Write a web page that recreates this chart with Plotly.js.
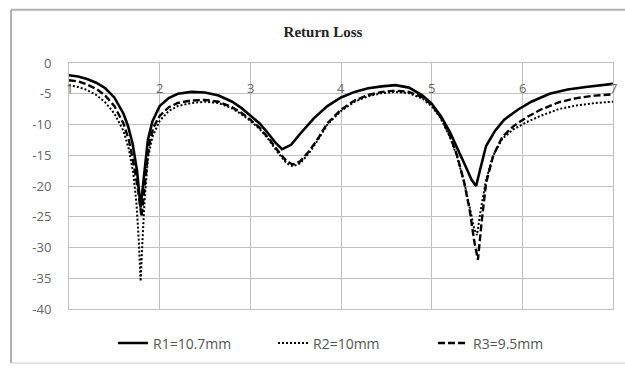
<!DOCTYPE html>
<html>
<head>
<meta charset="utf-8">
<script src="https://cdn.plot.ly/plotly-3.0.1.min.js"></script>
<style>html,body{margin:0;padding:0;background:#fff;}#chart{width:625px;height:372px;}</style>
</head>
<body>
<div id="chart"></div>
<script>
// ---- data ----
const seriesNames = ["R1=10.7mm", "R2=10mm", "R3=9.5mm"];

const r1X = [1.0,1.1,1.2,1.3,1.4,1.5,1.6,1.65,1.7,1.75,1.79,1.83,1.87,1.92,2.0,2.1,2.2,2.35,2.5,2.65,2.8,2.9,3.0,3.1,3.2,3.28,3.35,3.45,3.55,3.7,3.85,4.0,4.15,4.3,4.45,4.6,4.75,4.9,5.0,5.1,5.2,5.3,5.38,5.44,5.49,5.54,5.6,5.7,5.8,5.95,6.1,6.3,6.5,6.7,6.85,7.0];
const r1Y = [-2.0,-2.2,-2.6,-3.2,-4.1,-5.6,-8.2,-10.2,-13,-17.5,-23.5,-17.5,-12.5,-9.5,-7.0,-5.7,-5.0,-4.7,-4.8,-5.3,-6.3,-7.3,-8.6,-9.8,-11.5,-13,-14,-13.3,-11.5,-9.0,-7.0,-5.6,-4.7,-4.1,-3.8,-3.6,-4.0,-5.3,-6.6,-8.6,-11.2,-14.3,-17,-19,-20,-17,-13.5,-11,-9.2,-7.6,-6.3,-5.0,-4.3,-3.9,-3.6,-3.4];

const r2X = [1.0,1.1,1.2,1.3,1.4,1.5,1.6,1.66,1.71,1.745,1.77,1.79,1.81,1.835,1.87,1.92,2.0,2.1,2.2,2.35,2.5,2.65,2.8,2.9,3.0,3.1,3.2,3.3,3.4,3.47,3.55,3.65,3.75,3.85,4.0,4.15,4.3,4.45,4.6,4.75,4.9,5.0,5.1,5.2,5.28,5.36,5.42,5.47,5.5,5.54,5.6,5.68,5.78,5.9,6.05,6.2,6.4,6.6,6.8,7.0];
const r2Y = [-3.6,-3.9,-4.4,-5.2,-6.4,-8.2,-11.0,-14,-18,-23,-29,-35.5,-29,-22,-15.5,-12,-9.4,-7.8,-7.0,-6.5,-6.3,-6.5,-7.4,-8.3,-9.4,-10.7,-12.4,-14.5,-16.3,-16.8,-16.3,-14.6,-12.4,-10.0,-7.8,-6.3,-5.4,-4.9,-4.7,-4.9,-5.8,-7.0,-9.0,-12.0,-15.2,-19.5,-23.5,-27,-28,-24,-19,-15,-12.3,-10.8,-9.6,-8.6,-7.5,-6.9,-6.5,-6.3];

const r3X = [1.0,1.1,1.2,1.3,1.4,1.5,1.6,1.66,1.72,1.76,1.8,1.84,1.88,1.93,2.0,2.1,2.2,2.35,2.5,2.65,2.8,2.9,3.0,3.1,3.2,3.3,3.4,3.47,3.55,3.65,3.75,3.85,4.0,4.15,4.3,4.45,4.6,4.75,4.9,5.0,5.1,5.2,5.28,5.36,5.42,5.47,5.51,5.55,5.6,5.68,5.78,5.9,6.05,6.2,6.4,6.6,6.8,7.0];
const r3Y = [-2.8,-3.0,-3.5,-4.2,-5.3,-7.0,-9.8,-12.5,-17,-20.5,-25,-19,-13.5,-10.5,-8.6,-7.2,-6.5,-6.1,-6.0,-6.3,-7.2,-8.1,-9.2,-10.5,-12.2,-14.2,-16.0,-16.5,-16.0,-14.3,-12.2,-9.8,-7.6,-6.1,-5.2,-4.7,-4.5,-4.7,-5.6,-6.8,-8.8,-11.8,-15.0,-19.5,-24,-29,-32,-26,-19.5,-15,-12,-10.3,-8.8,-7.6,-6.4,-5.7,-5.3,-5.1];

const xTickVals = [1,2,3,4,5,6,7];
const xTickLabels = ["1","2","3","4","5","6","7"];
const yTickVals = [0,-5,-10,-15,-20,-25,-30,-35,-40];
const yTickLabels = ["0","-5","-10","-15","-20","-25","-30","-35","-40"];
const titleText = "Return Loss";

// ---- chart ----
const gridCol = "#c0c0c0";
const labelCol = "#666666";

const traces = [
  {x: r1X, y: r1Y, name: seriesNames[0], mode: "lines", line: {color: "#000", width: 2.6}},
  {x: r2X, y: r2Y, name: seriesNames[1], mode: "lines", line: {color: "#000", width: 2, dash: "2px,2px"}},
  {x: r3X, y: r3Y, name: seriesNames[2], mode: "lines", line: {color: "#000", width: 2.4, dash: "7px,3px"}}
];

const annotations = xTickVals.map((v, i) => ({
  x: v, y: -4, xref: "x", yref: "y", text: xTickLabels[i], showarrow: false,
  xanchor: "center", yanchor: "middle",
  font: {family: "Open Sans, sans-serif", size: 13, color: labelCol}
}));

const L = 69, R = 613, T = 63, B = 313;
const px = v => (v - L) / (R - L);
const py = v => (B - v) / (B - T);
const frame = "#b0b0b0";
const shapes = [
  {type: "line", xref: "paper", yref: "paper", x0: px(11), x1: px(640), y0: py(9), y1: py(9), line: {color: frame, width: 2}},
  {type: "line", xref: "paper", yref: "paper", x0: px(11), x1: px(11), y0: py(9), y1: py(368), line: {color: frame, width: 2}},
  {type: "line", xref: "paper", yref: "paper", x0: px(11), x1: px(640), y0: py(368), y1: py(368), line: {color: "#d0d0d0", width: 1}}
];

const layout = {
  width: 625, height: 372,
  margin: {l: L, r: 625 - R, t: T, b: 372 - B},
  paper_bgcolor: "#fff", plot_bgcolor: "#fff",
  title: {text: "<b>" + titleText + "</b>", x: 323/625, xanchor: "center", y: 1 - 32/372, yanchor: "middle",
          font: {family: "Liberation Serif, Times New Roman, serif", size: 15, color: "#222"}},
  xaxis: {range: [1, 7], tickvals: xTickVals, showticklabels: false, showgrid: true, gridcolor: gridCol, gridwidth: 1,
          zeroline: false, showline: true, mirror: true, linecolor: gridCol, linewidth: 1, ticks: ""},
  yaxis: {range: [-40, 0], tickvals: yTickVals, ticktext: yTickLabels, showgrid: true, gridcolor: gridCol, gridwidth: 1,
          zeroline: false, showline: true, mirror: true, linecolor: gridCol, linewidth: 1, ticks: "",
          ticklabelstandoff: 14,
          tickfont: {family: "Open Sans, sans-serif", size: 13, color: labelCol}},
  showlegend: true,
  legend: {orientation: "h", x: 0.5 + 12/544, xanchor: "center", y: py(348), yanchor: "middle",
           font: {family: "Open Sans, sans-serif", size: 14, color: "#555"}, entrywidth: 115, bgcolor: "rgba(0,0,0,0)"},
  annotations: annotations,
  shapes: shapes
};

Plotly.newPlot("chart", traces, layout, {displayModeBar: false, staticPlot: true});
</script>
</body>
</html>
